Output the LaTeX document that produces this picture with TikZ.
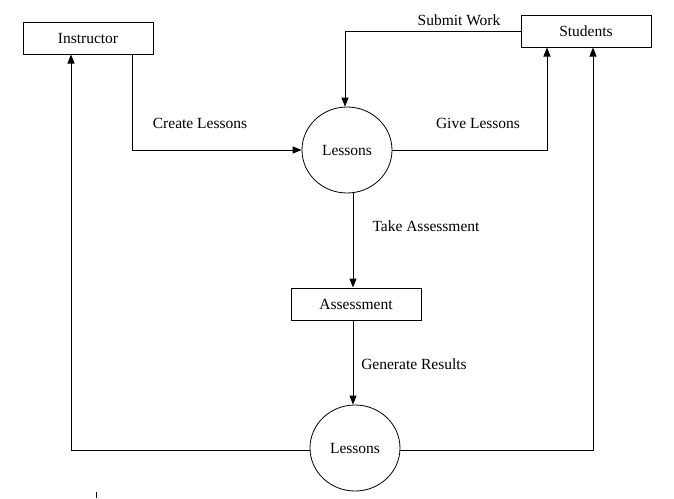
\documentclass[tikz,border=0pt]{standalone}
\usepackage{fontspec}
\setmainfont{Liberation Serif}
\usetikzlibrary{arrows.meta,shapes.geometric}
\begin{document}
\begin{tikzpicture}[x=1pt,y=-1pt,
  font=\fontsize{15.5}{18}\selectfont,
  ent/.style={draw,line width=1pt,minimum width=130pt,minimum height=32pt,inner sep=0pt},
  proc/.style={draw,ellipse,line width=0.8pt,minimum width=90pt,minimum height=86pt,inner sep=0pt},
  flow/.style={line width=1pt,-{Triangle[width=7pt,length=9pt]}},
  lbl/.style={inner sep=0pt}]
\useasboundingbox (0,0) rectangle (674,498);
\node[ent] (instr) at (88,38) {Instructor};
\node[ent] (stud) at (586,31) {Students};
\node[proc] (les1) at (347,150) {Lessons};
\node[ent] (assess) at (356,304) {Assessment};
\node[proc] (les2) at (355,448) {Lessons};
\coordinate (c1) at (132,150);
\coordinate (c2) at (345,31);
\coordinate (c3) at (547,150);
\coordinate (c4) at (71,450);
\coordinate (c5) at (593,450);
\draw[flow] (instr.south -| c1) -- (c1) -- (les1.west);
\draw[flow] (stud.west) -- (c2) -- (c2 |- les1.north);
\draw[flow] (les1.east) -- (c3) -- (c3 |- stud.south);
\draw[flow] (les1.south -| 353,0) -- (353,0 |- assess.north);
\draw[flow] (assess.south -| 353,0) -- (353,0 |- les2.north);
\draw[flow] (les2.west |- c4) -- (c4) -- (c4 |- instr.south);
\draw[flow] (les2.east |- c5) -- (c5) -- (c5 |- stud.south);
\node[lbl] (l1) at (200,123) {Create Lessons};
\node[lbl] (l2) at (459,20) {Submit Work};
\node[lbl] (l3) at (478,123) {Give Lessons};
\node[lbl] (l4) at (426,226) {Take Assessment};
\node[lbl] (l5) at (414,364) {Generate Results};
\coordinate (t1) at (96,492);
\coordinate (t2) at (96,498);
\draw[line width=1pt] (t1) -- (t2);
\end{tikzpicture}
\end{document}
